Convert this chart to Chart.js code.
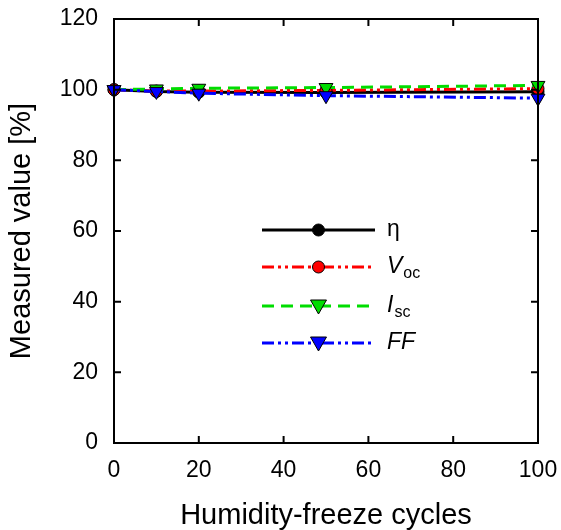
<!DOCTYPE html>
<html>
<head>
<meta charset="utf-8">
<script src="https://cdn.jsdelivr.net/npm/chart.js@4.4.0/dist/chart.umd.min.js"></script>
<style>
  html, body { margin: 0; padding: 0; background: #fff; }
  #wrap { width: 561px; height: 530px; }
</style>
</head>
<body>
<div id="wrap"><canvas id="chart" width="561" height="530"></canvas></div>
<script>
// values
const cycles = [0, 10, 20, 50, 100];
const eta = [100, 99.5, 99.3, 99.2, 99.4];
const voc = [100, 99.6, 99.6, 99.8, 100.3];
const isc = [100, 100.2, 100.4, 100.6, 101.2];
const ff = [100, 99.5, 99.0, 98.3, 97.6];
const xTicks = [0, 20, 40, 60, 80, 100];
const yTicks = [0, 20, 40, 60, 80, 100, 120];

const FONT = '"Liberation Sans", Arial, sans-serif';

function pts(arr) {
    return cycles.map((c, i) => ({ x: c, y: arr[i] }));
}

const series = [
    { label: 'η', data: eta, color: '#000000', dash: [], style: 'circle' },
    { label: 'Voc', data: voc, color: '#ff0000', dash: [12, 4, 3, 4, 3, 4], style: 'circle' },
    { label: 'Isc', data: isc, color: '#00dd00', dash: [12, 7], style: 'tri' },
    { label: 'FF', data: ff, color: '#0000ff', dash: [12, 4, 3, 4, 3, 4], style: 'tri' }
];

// box, inside ticks and the in-plot legend
const framePlugin = {
    id: 'frame',
    afterDatasetsDraw(chart) {
        const ctx = chart.ctx;
        const a = chart.chartArea;
        const xs = chart.scales.x, ys = chart.scales.y;
        ctx.save();
        ctx.strokeStyle = '#000';
        ctx.lineWidth = 2;
        ctx.setLineDash([]);
        ctx.strokeRect(a.left, a.top, a.right - a.left, a.bottom - a.top);
        ctx.beginPath();
        xTicks.forEach(v => {
            const px = xs.getPixelForValue(v);
            ctx.moveTo(px, a.bottom); ctx.lineTo(px, a.bottom - 7);
            ctx.moveTo(px, a.top); ctx.lineTo(px, a.top + 7);
        });
        yTicks.forEach(v => {
            const py = ys.getPixelForValue(v);
            ctx.moveTo(a.left, py); ctx.lineTo(a.left + 7, py);
            ctx.moveTo(a.right, py); ctx.lineTo(a.right - 7, py);
        });
        ctx.stroke();

        // legend
        const x0 = a.left + 148, x1 = a.left + 261, xm = (x0 + x1) / 2;
        const rows = [a.top + 211, a.top + 248, a.top + 287, a.top + 324];
        series.forEach((s, i) => {
            const y = rows[i];
            ctx.strokeStyle = s.color;
            ctx.lineWidth = 3;
            ctx.setLineDash(s.dash);
            ctx.beginPath(); ctx.moveTo(x0, y); ctx.lineTo(x1, y); ctx.stroke();
            ctx.setLineDash([]);
            ctx.fillStyle = s.color;
            ctx.strokeStyle = '#000';
            ctx.lineWidth = 1;
            ctx.beginPath();
            if (s.style === 'circle') {
                ctx.arc(xm, y, 6, 0, Math.PI * 2);
            } else {
                ctx.moveTo(xm - 8, y - 6); ctx.lineTo(xm + 8, y - 6); ctx.lineTo(xm, y + 8); ctx.closePath();
            }
            ctx.fill(); ctx.stroke();

            ctx.fillStyle = '#000';
            ctx.textBaseline = 'middle';
            ctx.textAlign = 'left';
            const tx = x1 + 12;
            if (s.label === 'η') {
                ctx.font = '23px ' + FONT;
                ctx.fillText('η', tx, y);
            } else if (s.label === 'FF') {
                ctx.font = 'italic 23px ' + FONT;
                ctx.fillText('FF', tx, y);
            } else {
                const main = s.label[0], sub = s.label.slice(1);
                ctx.font = 'italic 23px ' + FONT;
                ctx.fillText(main, tx, y);
                const w = ctx.measureText(main).width;
                ctx.font = '16px ' + FONT;
                ctx.fillText(sub, tx + w + 1, y + 7);
            }
        });
        ctx.restore();
    }
};

new Chart(document.getElementById('chart'), {
    type: 'line',
    data: {
        datasets: series.map((s, i) => ({
            label: s.label,
            data: pts(s.data),
            order: series.length - 1 - i,   // later series drawn on top
            borderColor: s.color,
            backgroundColor: s.color,
            borderWidth: 3,
            borderDash: s.dash,
            pointStyle: s.style === 'circle' ? 'circle' : 'triangle',
            rotation: s.style === 'circle' ? 0 : 180,
            pointRadius: s.style === 'circle' ? 6 : 8,
            pointBorderColor: '#000',
            pointBorderWidth: 1,
            pointBackgroundColor: s.color,
            tension: 0,
            clip: false
        }))
    },
    options: {
        responsive: false,
        animation: false,
        layout: { padding: { left: 0, right: 23, top: 19, bottom: 0 } },
        plugins: { legend: { display: false }, tooltip: { enabled: false } },
        scales: {
            x: {
                type: 'linear',
                min: 0, max: 100,
                grid: { display: false, drawTicks: false },
                border: { display: false },
                afterBuildTicks: s => { s.ticks = xTicks.map(v => ({ value: v })); },
                afterFit: s => { s.height = 87; s.paddingLeft = 0; s.paddingRight = 0; },
                ticks: { color: '#000', font: { family: FONT, size: 23 }, padding: 14, maxRotation: 0 },
                title: { display: true, text: 'Humidity-freeze cycles', color: '#000', font: { family: FONT, size: 29, lineHeight: 1 }, padding: { top: 0, bottom: 0 } }
            },
            y: {
                min: 0, max: 120,
                grid: { display: false, drawTicks: false },
                border: { display: false },
                afterBuildTicks: s => { s.ticks = yTicks.map(v => ({ value: v })); },
                afterFit: s => { s.width = 114; s.paddingTop = 0; s.paddingBottom = 0; },
                ticks: { color: '#000', font: { family: FONT, size: 23 }, padding: 16 },
                title: { display: true, text: 'Measured value [%]', color: '#000', font: { family: FONT, size: 29, lineHeight: 1 }, padding: { top: 7, bottom: 0 } }
            }
        }
    },
    plugins: [framePlugin]
});
</script>
</body>
</html>
